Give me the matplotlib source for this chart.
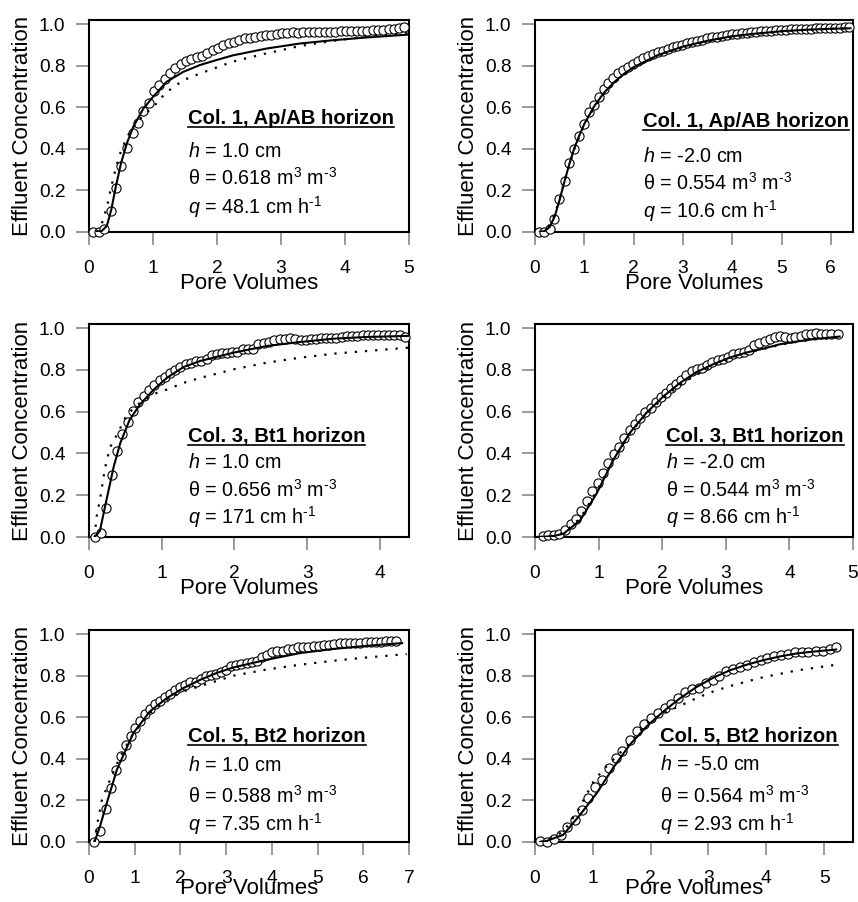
import matplotlib
matplotlib.use("Agg")
import matplotlib.pyplot as plt
from matplotlib.lines import Line2D

plt.rcParams['font.family'] = ['Liberation Sans', 'DejaVu Sans']
plt.rcParams['mathtext.fontset'] = 'custom'
plt.rcParams['mathtext.rm'] = 'Liberation Sans'
plt.rcParams['mathtext.it'] = 'Liberation Sans:italic'
plt.rcParams['mathtext.bf'] = 'Liberation Sans:bold'

# ---------------- data ----------------
# Panel 1: Col. 1, Ap/AB, h = 1.0 cm
p1_obs_x = [0.07, 0.16, 0.24, 0.34, 0.42, 0.50, 0.59, 0.68, 0.76, 0.85, 0.93, 1.01, 1.09, 1.18, 1.26,
            1.34, 1.43, 1.51, 1.59, 1.68, 1.77, 1.85, 1.93, 2.02, 2.10, 2.18, 2.27, 2.35, 2.43, 2.52,
            2.60, 2.68, 2.77, 2.85, 2.93, 3.02, 3.10, 3.18, 3.27, 3.35, 3.43, 3.52, 3.60, 3.68, 3.77,
            3.85, 3.93, 4.02, 4.10, 4.18, 4.27, 4.35, 4.43, 4.52, 4.60, 4.68, 4.77, 4.85, 4.92]
p1_obs_y = [0.0, 0.0, 0.016, 0.10, 0.21, 0.316, 0.405, 0.474, 0.525, 0.58, 0.62, 0.676, 0.706, 0.734, 0.766,
            0.787, 0.806, 0.822, 0.831, 0.84, 0.846, 0.859, 0.875, 0.886, 0.899, 0.907, 0.915, 0.923, 0.931, 0.931,
            0.939, 0.945, 0.947, 0.95, 0.955, 0.958, 0.958, 0.96, 0.958, 0.96, 0.962, 0.96, 0.962, 0.963, 0.96,
            0.962, 0.965, 0.967, 0.967, 0.968, 0.968, 0.968, 0.97, 0.97, 0.972, 0.975, 0.977, 0.98, 0.985]
p1_fit_x = [0.12, 0.2, 0.28, 0.35, 0.42, 0.5, 0.59, 0.69, 0.85, 1.0, 1.21, 1.47, 1.73, 2.0, 2.25, 2.78, 3.3, 3.82, 4.34, 5.0]
p1_fit_y = [0.0, 0.005, 0.03, 0.11, 0.22, 0.33, 0.425, 0.505, 0.594, 0.65, 0.722, 0.77, 0.803, 0.828, 0.85, 0.883, 0.907, 0.923, 0.936, 0.95]
p1_alt_x = [0.12, 0.2, 0.28, 0.35, 0.42, 0.5, 0.6, 0.75, 0.9, 1.0, 1.2, 1.47, 1.73, 2.25, 2.78, 3.3, 3.82, 4.34, 5.0]
p1_alt_y = [0.0, 0.04, 0.12, 0.22, 0.31, 0.39, 0.46, 0.53, 0.575, 0.6, 0.67, 0.73, 0.762, 0.82, 0.86, 0.895, 0.92, 0.94, 0.958]

# Panel 2: Col. 1, Ap/AB, h = -2.0 cm
p2_obs_x = [0.08, 0.19, 0.3, 0.39, 0.49, 0.6, 0.69, 0.79, 0.9, 0.99, 1.09, 1.19, 1.29, 1.39, 1.49, 1.59, 1.69,
            1.79, 1.88, 1.99, 2.09, 2.19, 2.29, 2.39, 2.49, 2.59, 2.69, 2.79, 2.89, 2.99, 3.09, 3.19, 3.29,
            3.39, 3.49, 3.59, 3.69, 3.79, 3.89, 3.99, 4.09, 4.19, 4.29, 4.39, 4.49, 4.59, 4.69, 4.79, 4.89,
            4.99, 5.09, 5.19, 5.29, 5.39, 5.49, 5.59, 5.69, 5.79, 5.89, 5.99, 6.09, 6.19, 6.29, 6.37]
p2_obs_y = [0.0, 0.0, 0.016, 0.064, 0.16, 0.245, 0.332, 0.40, 0.46, 0.52, 0.575, 0.613, 0.65, 0.69, 0.717, 0.743, 0.766,
            0.778, 0.794, 0.81, 0.822, 0.835, 0.845, 0.855, 0.865, 0.873, 0.88, 0.888, 0.895, 0.902, 0.908, 0.914, 0.92,
            0.926, 0.931, 0.936, 0.94, 0.944, 0.948, 0.951, 0.954, 0.957, 0.959, 0.962, 0.964, 0.966, 0.968, 0.969, 0.971,
            0.972, 0.974, 0.975, 0.976, 0.977, 0.978, 0.979, 0.98, 0.981, 0.981, 0.982, 0.983, 0.983, 0.984, 0.985]
p2_fit_x = [0.1, 0.2, 0.3, 0.4, 0.5, 0.6, 0.7, 0.8, 0.9, 1.0, 1.2, 1.4, 1.6, 1.8, 2.0, 2.5, 3.0, 3.5, 4.0, 4.5, 5.0, 5.5, 6.0, 6.4]
p2_fit_y = [0.0, 0.005, 0.025, 0.075, 0.155, 0.245, 0.33, 0.405, 0.465, 0.52, 0.605, 0.67, 0.72, 0.76, 0.793, 0.852,
            0.892, 0.92, 0.942, 0.955, 0.966, 0.973, 0.978, 0.98]
p2_alt_x = [0.1, 0.2, 0.3, 0.4, 0.5, 0.6, 0.7, 0.8, 0.9, 1.0, 1.2, 1.4, 1.6, 1.8, 2.0, 2.5, 3.0, 3.5, 4.0, 4.5, 5.0, 5.5, 6.0, 6.4]
p2_alt_y = [0.0, 0.008, 0.035, 0.085, 0.16, 0.245, 0.325, 0.4, 0.46, 0.515, 0.6, 0.665, 0.715, 0.757, 0.79, 0.85,
            0.89, 0.918, 0.94, 0.954, 0.965, 0.972, 0.977, 0.98]

# Panel 3: Col. 3, Bt1, h = 1.0 cm
p3_obs_x = [0.08, 0.16, 0.24, 0.31, 0.38, 0.45, 0.53, 0.61, 0.68, 0.76, 0.83, 0.9, 0.97, 1.04, 1.11, 1.18, 1.25,
            1.33, 1.4, 1.47, 1.54, 1.62, 1.69, 1.76, 1.83, 1.9, 1.97, 2.04, 2.12, 2.19, 2.25, 2.33, 2.4, 2.48,
            2.55, 2.62, 2.69, 2.76, 2.83, 2.91, 2.98, 3.05, 3.12, 3.19, 3.26, 3.33, 3.4, 3.48, 3.55, 3.62,
            3.69, 3.77, 3.84, 3.91, 3.98, 4.05, 4.13, 4.2, 4.27, 4.34]
p3_obs_y = [0.0, 0.02, 0.14, 0.297, 0.41, 0.494, 0.549, 0.605, 0.645, 0.674, 0.703, 0.726, 0.75, 0.767, 0.783, 0.802, 0.814,
            0.827, 0.835, 0.841, 0.841, 0.854, 0.87, 0.875, 0.88, 0.883, 0.886, 0.886, 0.899, 0.902, 0.902, 0.923, 0.931, 0.936,
            0.944, 0.947, 0.95, 0.952, 0.95, 0.944, 0.944, 0.947, 0.95, 0.955, 0.955, 0.955, 0.952, 0.96, 0.963, 0.963,
            0.963, 0.966, 0.966, 0.966, 0.969, 0.967, 0.967, 0.966, 0.966, 0.96]
p3_fit_x = [0.08, 0.15, 0.24, 0.34, 0.43, 0.56, 0.7, 0.89, 1.07, 1.3, 1.53, 1.99, 2.45, 2.91, 3.37, 3.83, 4.4]
p3_fit_y = [0.0, 0.03, 0.177, 0.337, 0.45, 0.562, 0.634, 0.706, 0.762, 0.814, 0.843, 0.883, 0.915, 0.934, 0.95, 0.958, 0.963]
p3_alt_x = [0.08, 0.1, 0.15, 0.22, 0.29, 0.4, 0.52, 0.7, 0.93, 1.07, 1.3, 1.53, 1.99, 2.45, 2.91, 3.37, 3.83, 4.4]
p3_alt_y = [0.0, 0.09, 0.177, 0.33, 0.43, 0.5, 0.586, 0.642, 0.69, 0.706, 0.738, 0.762, 0.803, 0.835, 0.859, 0.878, 0.891, 0.907]

# Panel 4: Col. 3, Bt1, h = -2.0 cm
p4_obs_x = [0.12, 0.21, 0.3, 0.38, 0.47, 0.57, 0.65, 0.73, 0.82, 0.9, 0.99, 1.07, 1.15, 1.24, 1.32, 1.4, 1.49,
            1.57, 1.65, 1.73, 1.82, 1.9, 1.98, 2.06, 2.14, 2.22, 2.3, 2.38, 2.47, 2.54, 2.63, 2.71, 2.79,
            2.87, 2.95, 3.04, 3.12, 3.2, 3.28, 3.36, 3.45, 3.52, 3.61, 3.69, 3.77, 3.85, 3.93, 4.02, 4.09,
            4.18, 4.26, 4.34, 4.42, 4.5, 4.58, 4.66, 4.76]
p4_obs_y = [0.003, 0.008, 0.008, 0.016, 0.032, 0.061, 0.088, 0.125, 0.173, 0.22, 0.26, 0.308, 0.353, 0.396, 0.433, 0.473,
            0.514, 0.543, 0.57, 0.597, 0.618, 0.645, 0.671, 0.69, 0.714, 0.735, 0.754, 0.774, 0.795, 0.803, 0.811, 0.822,
            0.838, 0.846, 0.854, 0.862, 0.875, 0.88, 0.886, 0.896, 0.918, 0.931, 0.939, 0.947, 0.958, 0.963, 0.96, 0.955,
            0.958, 0.963, 0.971, 0.974, 0.976, 0.974, 0.974, 0.974, 0.974]
p4_fit_x = [0.08, 0.3, 0.45, 0.71, 0.97, 1.23, 1.49, 1.75, 2.02, 2.28, 2.54, 2.8, 3.06, 3.32, 3.59, 3.85, 4.11, 4.37, 4.79]
p4_fit_y = [0.0, 0.005, 0.016, 0.08, 0.209, 0.369, 0.498, 0.594, 0.674, 0.738, 0.79, 0.827, 0.859, 0.883, 0.902, 0.923,
            0.936, 0.947, 0.96]
p4_alt_x = [0.08, 0.3, 0.45, 0.71, 0.97, 1.23, 1.49, 1.75, 2.02, 2.28, 2.54, 2.8, 3.06, 3.32, 3.59, 3.85, 4.11, 4.37, 4.79]
p4_alt_y = [0.0, 0.007, 0.02, 0.09, 0.22, 0.37, 0.495, 0.59, 0.665, 0.728, 0.778, 0.82, 0.855, 0.88, 0.9, 0.92,
            0.934, 0.945, 0.958]

# Panel 5: Col. 5, Bt2, h = 1.0 cm
p5_obs_x = [0.12, 0.24, 0.37, 0.48, 0.59, 0.69, 0.81, 0.91, 1.01, 1.12, 1.23, 1.33, 1.44, 1.55, 1.66, 1.77, 1.89,
            2.0, 2.11, 2.22, 2.33, 2.44, 2.55, 2.66, 2.77, 2.89, 3.0, 3.11, 3.22, 3.33, 3.45, 3.56, 3.68,
            3.79, 3.9, 4.01, 4.12, 4.24, 4.35, 4.46, 4.57, 4.69, 4.8, 4.92, 5.03, 5.14, 5.25, 5.37, 5.48,
            5.59, 5.7, 5.82, 5.93, 6.05, 6.16, 6.27, 6.38, 6.5, 6.61, 6.72]
p5_obs_y = [0.0, 0.054, 0.159, 0.26, 0.345, 0.415, 0.465, 0.508, 0.548, 0.583, 0.617, 0.639, 0.665, 0.676, 0.70, 0.712,
            0.732, 0.745, 0.756, 0.768, 0.772, 0.784, 0.80, 0.804, 0.809, 0.82, 0.829, 0.845, 0.853, 0.857, 0.861, 0.865,
            0.873, 0.889, 0.90, 0.913, 0.92, 0.921, 0.927, 0.929, 0.937, 0.94, 0.94, 0.944, 0.944, 0.947, 0.95, 0.953,
            0.957, 0.957, 0.957, 0.957, 0.957, 0.96, 0.96, 0.962, 0.962, 0.965, 0.965, 0.965]
p5_fit_x = [0.12, 0.24, 0.39, 0.61, 0.97, 1.33, 1.7, 2.06, 2.43, 2.79, 3.16, 3.89, 4.62, 5.35, 6.08, 6.85]
p5_fit_y = [0.0, 0.075, 0.188, 0.348, 0.524, 0.628, 0.692, 0.74, 0.78, 0.813, 0.84, 0.877, 0.909, 0.929, 0.944, 0.957]
p5_alt_x = [0.12, 0.17, 0.28, 0.46, 0.68, 0.97, 1.33, 1.7, 2.06, 2.43, 3.16, 3.89, 4.62, 5.35, 6.08, 6.95]
p5_alt_y = [0.0, 0.075, 0.2, 0.3, 0.41, 0.524, 0.62, 0.684, 0.724, 0.75, 0.8, 0.83, 0.853, 0.872, 0.888, 0.904]

# Panel 6: Col. 5, Bt2, h = -5.0 cm
p6_obs_x = [0.09, 0.2, 0.33, 0.45, 0.56, 0.69, 0.81, 0.92, 1.04, 1.16, 1.28, 1.4, 1.51, 1.64, 1.76, 1.88, 2.0,
            2.12, 2.24, 2.35, 2.48, 2.59, 2.71, 2.83, 2.95, 3.07, 3.19, 3.31, 3.43, 3.54, 3.66, 3.78, 3.91,
            4.02, 4.14, 4.26, 4.38, 4.5, 4.61, 4.73, 4.86, 4.98, 5.1, 5.21]
p6_obs_y = [0.003, 0.0, 0.016, 0.035, 0.07, 0.107, 0.152, 0.213, 0.263, 0.3, 0.356, 0.404, 0.44, 0.489, 0.532, 0.569,
            0.596, 0.623, 0.647, 0.665, 0.692, 0.72, 0.736, 0.74, 0.764, 0.78, 0.8, 0.824, 0.833, 0.84, 0.853, 0.864,
            0.877, 0.885, 0.893, 0.901, 0.905, 0.912, 0.913, 0.912, 0.917, 0.921, 0.928, 0.936]
p6_fit_x = [0.09, 0.2, 0.49, 0.78, 1.07, 1.35, 1.64, 1.93, 2.22, 2.51, 2.79, 3.08, 3.37, 3.66, 3.95, 4.24, 4.52, 4.81, 5.21]
p6_fit_y = [0.0, 0.005, 0.035, 0.131, 0.236, 0.356, 0.468, 0.556, 0.628, 0.692, 0.745, 0.79, 0.826, 0.853, 0.875,
            0.893, 0.907, 0.916, 0.926]
p6_alt_x = [0.09, 0.2, 0.49, 0.72, 1.01, 1.18, 1.64, 1.93, 2.22, 2.51, 2.79, 3.08, 3.37, 3.66, 3.95, 4.24, 4.52, 4.81, 5.21]
p6_alt_y = [0.0, 0.01, 0.05, 0.14, 0.29, 0.348, 0.476, 0.572, 0.62, 0.655, 0.692, 0.724, 0.75, 0.772, 0.793, 0.809,
            0.825, 0.837, 0.853]

titles = ["Col. 1, Ap/AB horizon", "Col. 1, Ap/AB horizon", "Col. 3, Bt1 horizon",
          "Col. 3, Bt1 horizon", "Col. 5, Bt2 horizon", "Col. 5, Bt2 horizon"]
h_vals = ["1.0", "-2.0", "1.0", "-2.0", "1.0", "-5.0"]
theta_vals = ["0.618", "0.554", "0.656", "0.544", "0.588", "0.564"]
q_vals = ["48.1", "10.6", "171", "8.66", "7.35", "2.93"]
x_max = [5.0, 6.45, 4.4, 5.0, 7.0, 5.5]
x_ticks = [[0, 1, 2, 3, 4, 5], [0, 1, 2, 3, 4, 5, 6], [0, 1, 2, 3, 4],
           [0, 1, 2, 3, 4, 5], [0, 1, 2, 3, 4, 5, 6, 7], [0, 1, 2, 3, 4, 5]]

obs = [(p1_obs_x, p1_obs_y), (p2_obs_x, p2_obs_y), (p3_obs_x, p3_obs_y),
       (p4_obs_x, p4_obs_y), (p5_obs_x, p5_obs_y), (p6_obs_x, p6_obs_y)]
fits = [(p1_fit_x, p1_fit_y), (p2_fit_x, p2_fit_y), (p3_fit_x, p3_fit_y),
        (p4_fit_x, p4_fit_y), (p5_fit_x, p5_fit_y), (p6_fit_x, p6_fit_y)]
alts = [(p1_alt_x, p1_alt_y), (p2_alt_x, p2_alt_y), (p3_alt_x, p3_alt_y),
        (p4_alt_x, p4_alt_y), (p5_alt_x, p5_alt_y), (p6_alt_x, p6_alt_y)]

# ---------------- layout ----------------
W, H = 858, 902
fig = plt.figure(figsize=(W / 100, H / 100), dpi=100)

col_left = [89, 535]
col_width = [320, 318]
row_top = [20, 324, 630]
row_height = [212, 213, 212]
row_xlabelpad = [-3, -3, -7]

# text baselines (axes fraction): x, title, h, theta, q
text_pos = [(0.309, 0.509, 0.355, 0.222, 0.088),
            (0.34, 0.494, 0.332, 0.198, 0.065),
            (0.309, 0.447, 0.322, 0.189, 0.061),
            (0.412, 0.447, 0.322, 0.187, 0.060),
            (0.309, 0.473, 0.337, 0.185, 0.053),
            (0.393, 0.473, 0.338, 0.185, 0.053)]

tick_grey = '#7f7f7f'
title_artists = []
for i in range(6):
    r, c = divmod(i, 2)
    left = col_left[c] / W
    bottom = 1 - (row_top[r] + row_height[r]) / H
    ax = fig.add_axes([left, bottom, col_width[c] / W, row_height[r] / H])

    ox, oy = obs[i]
    fx, fy = fits[i]
    ax_, ay_ = alts[i]
    ax.plot(ox, oy, linestyle='none', marker='o', ms=6.6, mfc='white', mec='black',
            mew=0.8, zorder=3, clip_on=False)
    ax.plot(ax_, ay_, color='black', lw=1.6, linestyle=(0, (1.0, 3.6)), zorder=4)
    ax.plot(fx, fy, color='black', lw=1.5, zorder=5)

    ax.set_xlim(0, x_max[i])
    ax.set_ylim(0, 1.02)
    ax.set_xticks(x_ticks[i])
    ax.set_xticklabels([str(t) for t in x_ticks[i]])
    ax.set_yticks([0, 0.2, 0.4, 0.6, 0.8, 1.0])
    ax.set_yticklabels(["0.0", "0.2", "0.4", "0.6", "0.8", "1.0"])
    ax.tick_params(direction='out', length=9.5, width=1.1, color=tick_grey,
                   labelsize=13.8)
    ax.tick_params(axis='x', pad=11)
    ax.tick_params(axis='y', pad=7.5)
    for s in ax.spines.values():
        s.set_linewidth(1.5)
    ax.set_xlabel("Pore Volumes", fontsize=16, labelpad=row_xlabelpad[r])
    ax.set_ylabel("Effluent Concentration", fontsize=16, labelpad=4)

    tx, tyb, hy, thy, qy = text_pos[i]
    t = ax.text(tx, tyb, titles[i], transform=ax.transAxes, fontsize=14.6,
                fontweight='bold', ha='left', va='baseline')
    title_artists.append(t)
    ax.text(tx, hy, r"$h$ = " + h_vals[i] + " cm", transform=ax.transAxes,
            fontsize=14.2, ha='left', va='baseline')
    ax.text(tx, thy, "θ = " + theta_vals[i] + r" m$^{3}$ m$^{‐3}$", transform=ax.transAxes,
            fontsize=14.2, ha='left', va='baseline')
    ax.text(tx, qy, r"$q$ = " + q_vals[i] + r" cm h$^{‐1}$", transform=ax.transAxes,
            fontsize=14.2, ha='left', va='baseline')

# underline titles
fig.canvas.draw()
renderer = fig.canvas.get_renderer()
inv = fig.transFigure.inverted()
for t in title_artists:
    bb = t.get_window_extent(renderer)
    yb = t.get_transform().transform(t.get_position())[1] - 3.0
    (x0f, yf) = inv.transform((bb.x0, yb))
    (x1f, _) = inv.transform((bb.x1, yb))
    fig.add_artist(Line2D([x0f, x1f], [yf, yf], transform=fig.transFigure,
                          color='black', lw=1.2))

fig.savefig("out.png", dpi=100)
